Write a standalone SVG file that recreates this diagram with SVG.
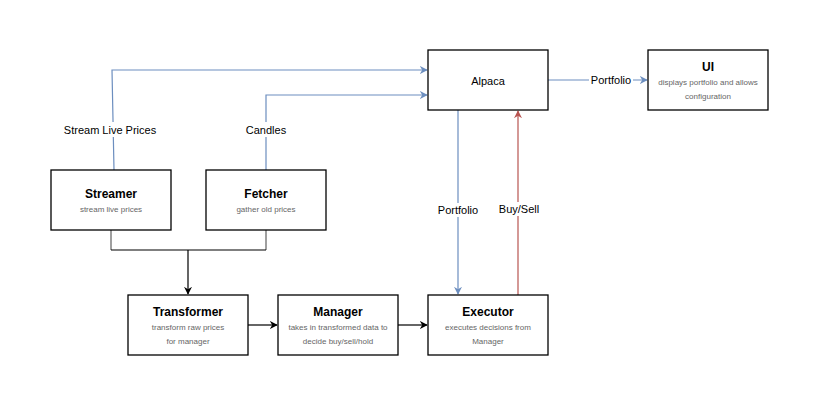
<svg xmlns="http://www.w3.org/2000/svg" width="819" height="407" viewBox="0 0 819 407">
<defs>
<style>
.box{fill:#fff;stroke:#000;stroke-width:1.3}
.t{font-family:"Liberation Sans",Arial,sans-serif;font-size:12px;font-weight:bold;fill:#000;text-anchor:middle}
.n{font-family:"Liberation Sans",Arial,sans-serif;font-size:11px;fill:#000;text-anchor:middle}
.s{font-family:"Liberation Sans",Arial,sans-serif;font-size:8px;fill:#666;text-anchor:middle}
.lbl{font-family:"Liberation Sans",Arial,sans-serif;font-size:11px;fill:#000;text-anchor:middle}
.blue{fill:none;stroke:#6c8ebf;stroke-width:1.2}
.red{fill:none;stroke:#b85450;stroke-width:1.2}
.blk{fill:none;stroke:#000;stroke-width:1.2}
.gry{fill:none;stroke:#808080;stroke-width:1.5}
</style>
<marker id="ab" viewBox="0 0 10 10" refX="9" refY="5" markerWidth="8" markerHeight="8" markerUnits="userSpaceOnUse" orient="auto"><path d="M0,0 L10,5 L0,10 L3,5 Z" fill="#6c8ebf"/></marker>
<marker id="ar" viewBox="0 0 10 10" refX="9" refY="5" markerWidth="8" markerHeight="8" markerUnits="userSpaceOnUse" orient="auto"><path d="M0,0 L10,5 L0,10 L3,5 Z" fill="#b85450"/></marker>
<marker id="ak" viewBox="0 0 10 10" refX="9" refY="5" markerWidth="8" markerHeight="8" markerUnits="userSpaceOnUse" orient="auto"><path d="M0,0 L10,5 L0,10 L3,5 Z" fill="#000"/></marker>
</defs>
<rect width="819" height="407" fill="#fff"/>
<g id="connectors">
<path class="blue" d="M114,170 L112,70 L427,70" marker-end="url(#ab)"/>
<rect x="62" y="122" width="98" height="15" fill="#fff"/>
<text class="lbl" x="110" y="134">Stream Live Prices</text>
<path class="blue" d="M266,170 L266,95 L427,95" marker-end="url(#ab)"/>
<rect x="244" y="122" width="44" height="15" fill="#fff"/>
<text class="lbl" x="266" y="134">Candles</text>
<path class="blue" d="M548,80 L647,80" marker-end="url(#ab)"/>
<rect x="589" y="73" width="44" height="14" fill="#fff"/>
<text class="lbl" x="611" y="84">Portfolio</text>
<path class="blue" d="M458,110 L458,294" marker-end="url(#ab)"/>
<rect x="436" y="203" width="44" height="14" fill="#fff"/>
<text class="lbl" x="458" y="214">Portfolio</text>
<path class="red" d="M518,295 L518,111" marker-end="url(#ar)"/>
<rect x="497" y="202" width="42" height="14" fill="#fff"/>
<text class="lbl" x="519" y="213">Buy/Sell</text>
<path class="gry" d="M111,230 L111,250 M266,230 L266,250"/>
<path class="blk" d="M111,250 L266,250 M188,250 L188,294" marker-end="url(#ak)"/>
<path class="blk" d="M248,325 L277,325" marker-end="url(#ak)"/>
<path class="blk" d="M398,325 L427,325" marker-end="url(#ak)"/>
</g>
<g id="alpaca"><rect class="box" x="428" y="50" width="120" height="60"/><text class="n" x="488" y="85">Alpaca</text></g>
<g id="ui"><rect class="box" x="648" y="50" width="120" height="60"/><text class="t" x="708" y="71">UI</text><text class="s" x="708" y="85">displays portfolio  and allows</text><text class="s" x="708" y="99">configuration</text></g>
<g id="streamer"><rect class="box" x="51" y="170" width="120" height="60"/><text class="t" x="111" y="198">Streamer</text><text class="s" x="111" y="212">stream live prices</text></g>
<g id="fetcher"><rect class="box" x="206" y="170" width="120" height="60"/><text class="t" x="266" y="198">Fetcher</text><text class="s" x="266" y="212">gather old prices</text></g>
<g id="transformer"><rect class="box" x="128" y="295" width="120" height="60"/><text class="t" x="188" y="316">Transformer</text><text class="s" x="188" y="330">transform raw prices</text><text class="s" x="188" y="344">for manager</text></g>
<g id="manager"><rect class="box" x="278" y="295" width="120" height="60"/><text class="t" x="338" y="316">Manager</text><text class="s" x="338" y="330">takes in transformed data to</text><text class="s" x="338" y="344">decide buy/sell/hold</text></g>
<g id="executor"><rect class="box" x="428" y="295" width="120" height="60"/><text class="t" x="488" y="316">Executor</text><text class="s" x="488" y="330">executes decisions from</text><text class="s" x="488" y="344">Manager</text></g>
</svg>
